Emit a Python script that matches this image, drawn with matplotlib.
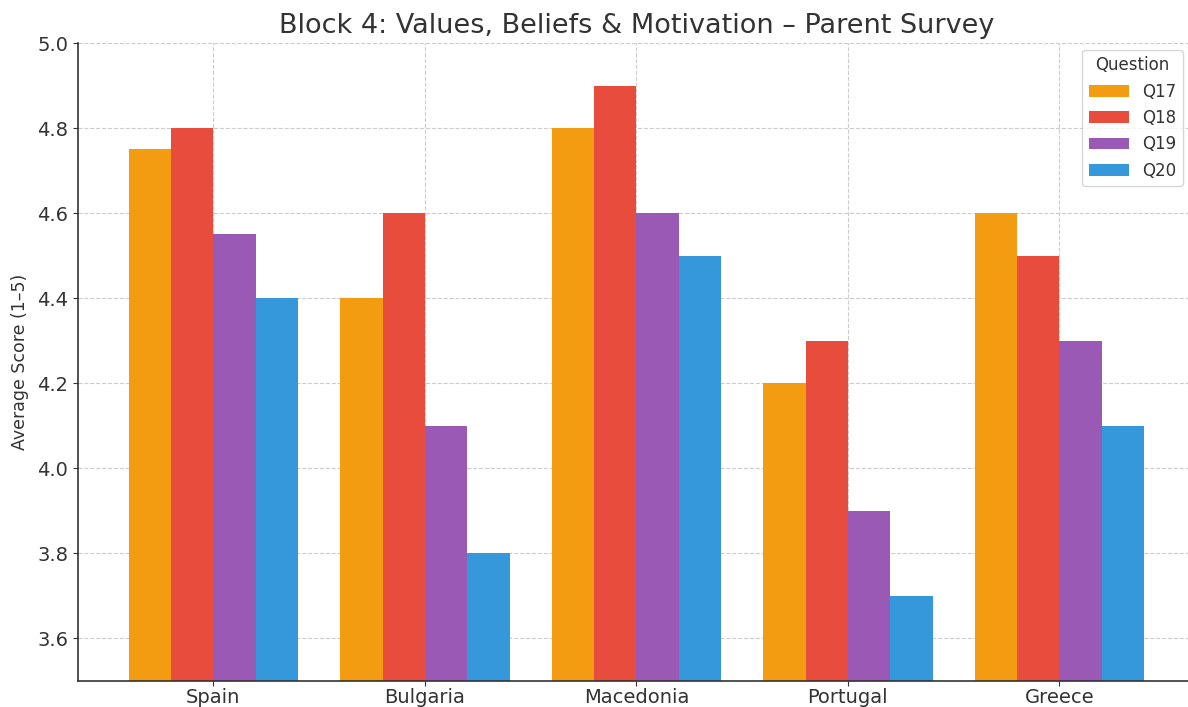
import matplotlib.pyplot as plt
import numpy as np

countries = ["Spain", "Bulgaria", "Macedonia", "Portugal", "Greece"]
questions = ["Q17", "Q18", "Q19", "Q20"]
q17 = [4.75, 4.4, 4.8, 4.2, 4.6]
q18 = [4.8, 4.6, 4.9, 4.3, 4.5]
q19 = [4.55, 4.1, 4.6, 3.9, 4.3]
q20 = [4.4, 3.8, 4.5, 3.7, 4.1]
colors = ["#f39c12", "#e74c3c", "#9b59b6", "#3498db"]

fig = plt.figure(figsize=(11.88, 7.07), dpi=100)
ax = fig.add_axes([0.0657, 0.037, 0.94, 0.902])

x = np.arange(len(countries))
width = 0.2
for i, (vals, label) in enumerate(zip([q17, q18, q19, q20], questions)):
    ax.bar(x + (i - 1.5) * width, vals, width, label=label, color=colors[i], zorder=2)

ax.set_ylim(3.5, 5.0)
ax.set_yticks(np.arange(3.6, 5.01, 0.2))
ax.set_xticks(x)
ax.set_xticklabels(countries)
ax.tick_params(axis="both", labelsize=14, colors="#333333")
ax.tick_params(axis="x", pad=1.5)
ax.grid(True, linestyle="--", color="#cccccc", linewidth=0.8, zorder=0)
ax.set_axisbelow(True)
for side in ["top", "right"]:
    ax.spines[side].set_visible(False)
for side in ["left", "bottom"]:
    ax.spines[side].set_color("#333333")
    ax.spines[side].set_linewidth(1.2)

ax.set_ylabel("Average Score (1–5)", fontsize=12.5, color="#333333", labelpad=6)
ax.set_title("Block 4: Values, Beliefs & Motivation – Parent Survey", fontsize=19.5, color="#333333", pad=7)
leg = ax.legend(title="Question", loc="upper right", fontsize=12, title_fontsize=12,
                bbox_to_anchor=(0.997, 1.003), handlelength=2.4, labelspacing=0.5)
leg.get_frame().set_edgecolor("#cccccc")
for t in leg.get_texts():
    t.set_color("#333333")
leg.get_title().set_color("#333333")

fig.savefig("out.png", dpi=100)
